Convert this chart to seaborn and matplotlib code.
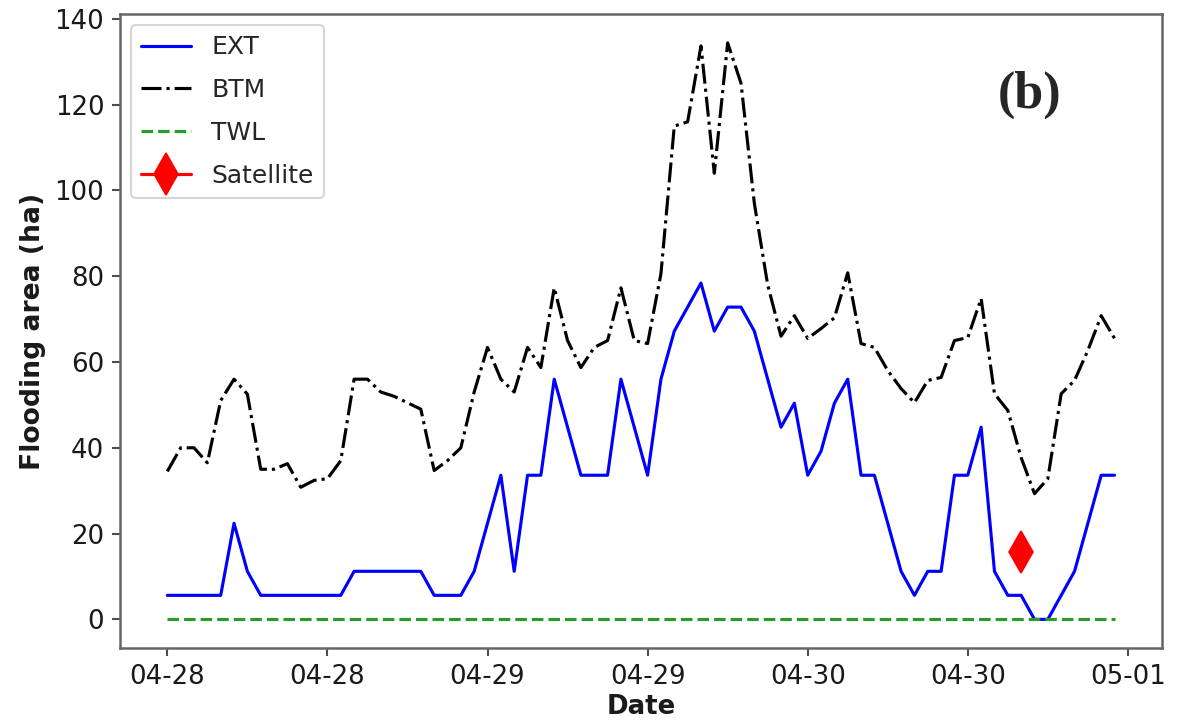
import matplotlib
matplotlib.use("Agg")
import matplotlib.pyplot as plt
import matplotlib.dates as mdates
import seaborn as sns
import pandas as pd

# ---- data (hourly, 04-28 00:00 .. 04-30 23:00) ----
start_time = "2020-04-28 00:00"
ext = [5.6, 5.6, 5.6, 5.6, 5.6, 22.4, 11.2, 5.6, 5.6, 5.6,
       5.6, 5.6, 5.6, 5.6, 11.2, 11.2, 11.2, 11.2, 11.2, 11.2,
       5.6, 5.6, 5.6, 11.2, 22.4, 33.6, 11.2, 33.6, 33.6, 56.0,
       44.8, 33.6, 33.6, 33.6, 56.0, 44.8, 33.6, 56.0, 67.2, 72.8,
       78.4, 67.2, 72.8, 72.8, 67.2, 56.0, 44.8, 50.4, 33.6, 39.2,
       50.4, 56.0, 33.6, 33.6, 22.4, 11.2, 5.6, 11.2, 11.2, 33.6,
       33.6, 44.8, 11.2, 5.6, 5.6, 0.0, 0.0, 5.6, 11.2, 22.4,
       33.6, 33.6]
btm = [34.5, 40.0, 40.0, 36.5, 51.0, 56.0, 52.5, 35.0, 35.0, 36.3,
       30.8, 32.4, 32.8, 37.0, 56.0, 56.0, 53.0, 52.0, 50.5, 49.0,
       34.7, 37.0, 40.0, 53.0, 63.4, 56.0, 53.0, 63.4, 58.7, 77.3,
       65.0, 58.7, 63.4, 65.0, 77.3, 65.0, 64.3, 80.6, 115.0, 116.0,
       133.7, 104.0, 134.4, 125.0, 97.0, 78.0, 66.0, 70.8, 65.5, 67.8,
       70.3, 80.8, 64.3, 63.4, 58.0, 53.8, 50.5, 55.7, 56.4, 65.0,
       65.7, 74.8, 52.6, 48.7, 37.7, 29.3, 32.8, 52.6, 55.7, 62.7,
       70.8, 65.5]
twl = [0.0] * 72
sat_time = ["2020-04-30 16:00"]
sat_value = [15.7]

dates = pd.date_range(start_time, periods=len(ext), freq="h")
df = pd.DataFrame({"Date": dates, "EXT": ext, "BTM": btm, "TWL": twl})
sat_df = pd.DataFrame({"Date": pd.to_datetime(sat_time), "Satellite": sat_value})

sns.set_style("ticks")
plt.rcParams["font.family"] = ["DejaVu Sans"]

fig = plt.figure(figsize=(1182 / 150, 721 / 150), dpi=150)
ax = fig.add_axes([0.1015, 0.101, 0.8815, 0.8795])

sns.lineplot(data=df, x="Date", y="EXT", ax=ax, color="blue", linewidth=1.5, label="EXT")
sns.lineplot(data=df, x="Date", y="BTM", ax=ax, color="black", linewidth=1.5,
             linestyle="-.", label="BTM")
sns.lineplot(data=df, x="Date", y="TWL", ax=ax, color="#2a9a2a", linewidth=1.5,
             linestyle="--", label="TWL")
sns.lineplot(data=sat_df, x="Date", y="Satellite", ax=ax, color="red", linewidth=1.5,
             marker="d", markersize=14, markeredgecolor="red", label="Satellite")

ax.xaxis.set_major_locator(mdates.HourLocator(byhour=[0, 12]))
ax.xaxis.set_major_formatter(mdates.DateFormatter("%m-%d"))
ax.set_yticks([0, 20, 40, 60, 80, 100, 120, 140])
ax.tick_params(labelsize=12.5, length=4, width=1, color="0.3", labelcolor="0.1")
ax.set_xlabel("Date", fontsize=12.5, fontweight="bold", labelpad=2, color="0.1")
ax.set_ylabel("Flooding area (ha)", fontsize=12.8, fontweight="bold", color="0.1")
for s in ax.spines.values():
    s.set_visible(True)
    s.set_color("0.4")
    s.set_linewidth(1.2)

ax.legend(loc="upper left", fontsize=12, labelspacing=0.75, borderaxespad=0.45)
ax.text(0.873, 0.872, "(b)", transform=ax.transAxes, ha="center", va="center",
        fontsize=25, fontweight="bold", color="0.15",
        family=["Liberation Serif", "DejaVu Serif"])

fig.savefig("out.png", dpi=150)
